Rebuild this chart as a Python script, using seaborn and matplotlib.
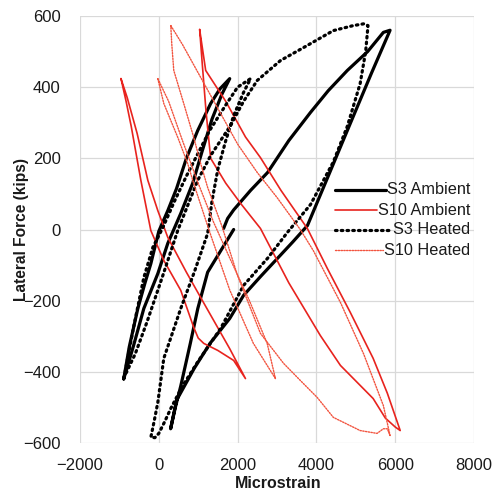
import matplotlib
matplotlib.use("Agg")
import matplotlib.pyplot as plt
import pandas as pd
import seaborn as sns
from matplotlib.lines import Line2D

series_names = ["S3 Ambient", "S10 Ambient", "S3 Heated", "S10 Heated"]

# ---- S3 Ambient (black solid)
s3a_small_x = [-890, -750, -532, -350, -202, 0, 228, 450, 700, 987, 1316, 1550, 1800,
               1600, 1350, 1100, 860, 557, 228, -25, -380, -650, -890]
s3a_small_y = [-420, -330, -222, -150, -96, -5, 53, 115, 200, 278, 354, 395, 424,
               380, 310, 220, 130, 45, -39, -124, -222, -330, -420]
s3a_big_x = [1900, 1570, 1240, 990, 800, 557, 420, 300, 450, 600, 900, 1300, 1800, 2152,
             2600, 3013, 3400, 3772, 4300, 4860, 5400, 5870, 5700, 5300, 4785, 4300, 3850,
             3300, 2760, 2330, 1900, 1747, 1645]
s3a_big_y = [0, -60, -120, -222, -320, -440, -500, -560, -480, -450, -390, -320, -250, -185,
             -130, -81, -35, 11, 150, 298, 440, 560, 554, 500, 447, 390, 329,
             250, 160, 110, 55, 31, 3]

# ---- S3 Heated (black dotted)
s3h_x = [-880, -650, -380, -150, 101, 400, 700, 1000, 1300, 1700, 2000, 2330,
         2150, 1900, 1700, 1500, 1350, 1240, 900, 557, 127, -25, -120, -202,
         -100, 0, 150, 304, 600, 1000, 1570, 2152, 2760, 3265, 3850, 4430, 4785, 5110,
         5250, 5310, 5200, 4935, 4430, 3670, 3090, 2500, 2150, 1820, 1316, 987, 480,
         100, -300, -600, -880]
s3h_y = [-415, -280, -135, -50, 5, 80, 150, 215, 280, 350, 400, 424,
         385, 320, 250, 170, 80, -11, -120, -222, -362, -486, -540, -584,
         -585, -573, -540, -503, -440, -370, -278, -157, -81, -8, 70, 190, 290, 410,
         500, 573, 578, 573, 559, 511, 475, 419, 360, 292, 208, 138, -3,
         -130, -260, -350, -415]

# ---- S10 Ambient (red solid)
s10a_small_x = [-960, -830, -700, -455, -202, 127, 557, 886, 1000, 1140, 1500, 1900, 2200,
                1800, 1200, 700, 228, -25, -278, -550, -800, -960]
s10a_small_y = [424, 360, 290, 138, -3, -87, -171, -275, -305, -320, -340, -368, -419,
                -335, -218, -120, -22, 53, 138, 270, 370, 424]
s10a_big_x = [1037, 1190, 1700, 2200, 2580, 3100, 3770, 4280, 4860, 5440, 5800, 6127,
              6000, 5870, 5750, 5440, 4860, 4610, 4100, 3300, 2580, 2100, 1700, 1316,
              1200, 1100, 1037]
s10a_big_y = [562, 447, 360, 260, 202, 110, 3, -110, -233, -362, -460, -565,
              -555, -542, -530, -475, -410, -382, -298, -150, 3, 70, 130, 200,
              330, 470, 562]

# ---- S10 Heated (red dotted)
s10h_small_x = [-25, 127, 481, 734, 886, 1300, 1800, 2400, 2960,
                2750, 2300, 1800, 1392, 1000, 600, 250, -25]
s10h_small_y = [424, 354, 259, 185, 129, -10, -170, -320, -419,
                -320, -200, -80, 20, 130, 250, 360, 424]
s10h_big_x = [304, 600, 1000, 1500, 2000, 2500, 3000, 3590, 3920, 4610, 5200, 5700, 5870,
              5800, 5700, 5540, 5110, 4430, 4020, 3590, 3165, 2580, 2000, 1600, 1240, 1063,
              886, 633, 380, 330, 304]
s10h_big_y = [573, 520, 440, 340, 240, 160, 90, 0, -59, -205, -350, -495, -579,
              -560, -560, -573, -565, -528, -472, -424, -376, -292, -130, 10, 118, 185,
              259, 354, 447, 520, 573]

x_ticks = [-2000, 0, 2000, 4000, 6000, 8000]
y_ticks = [-600, -400, -200, 0, 200, 400, 600]

segments = [
    ("S3 Ambient", s3a_small_x, s3a_small_y),
    ("S3 Ambient", s3a_big_x, s3a_big_y),
    ("S10 Ambient", s10a_small_x, s10a_small_y),
    ("S10 Ambient", s10a_big_x, s10a_big_y),
    ("S3 Heated", s3h_x, s3h_y),
    ("S10 Heated", s10h_small_x, s10h_small_y),
    ("S10 Heated", s10h_big_x, s10h_big_y),
]
rows = []
for i, (name, xs, ys) in enumerate(segments):
    for x, y in zip(xs, ys):
        rows.append({"series": name, "unit": f"{name}-{i}", "strain": x, "force": y})
df = pd.DataFrame(rows)

sns.set_theme(style="white")
plt.rcParams["font.family"] = ["Liberation Sans", "DejaVu Sans"]

fig = plt.figure(figsize=(4.96, 4.95), dpi=100)
W, H = 496, 495
ax = fig.add_axes([80 / W, 1 - 443 / H, (474 - 80) / W, (443 - 16) / H])

palette = {"S3 Ambient": "black", "S10 Ambient": "#e8231e",
           "S3 Heated": "black", "S10 Heated": "#f2543f"}
sizes = {"S3 Ambient": 2.3, "S10 Ambient": 1.2, "S3 Heated": 2.3, "S10 Heated": 1.0}
dashes = {"S3 Ambient": "", "S10 Ambient": "", "S3 Heated": (0.5, 1.3), "S10 Heated": (1, 1)}

for name in series_names:
    sub = df[df["series"] == name]
    sns.lineplot(data=sub, x="strain", y="force", units="unit", estimator=None, sort=False,
                 color=palette[name], linewidth=sizes[name],
                 dash_capstyle="round", ax=ax, legend=False)
    if dashes[name]:
        for ln in ax.lines[-sub["unit"].nunique():]:
            ln.set_dashes(dashes[name])

ax.set_xlim(-2000, 8000)
ax.set_ylim(-600, 600)
ax.set_xticks(x_ticks)
ax.set_yticks(y_ticks)
ax.grid(True, color="#d9d9d9", linewidth=0.9)
ax.set_axisbelow(True)
for s in ax.spines.values():
    s.set_visible(False)
ax.tick_params(axis="both", length=0, labelsize=12, colors="#1a1a1a")
ax.tick_params(axis="y", pad=14)
ax.tick_params(axis="x", pad=11)

ax.set_xlabel("Microstrain", fontsize=11.5, fontweight="bold", color="#1a1a1a")
ax.set_ylabel("Lateral Force (kips)", fontsize=11.2, fontweight="bold", color="#1a1a1a")
ax.xaxis.label.set_va("center")
ax.yaxis.label.set_va("center")
ax.xaxis.set_label_coords(0.503, -(483 - 443) / 427)
ax.yaxis.set_label_coords((21 - 80) / 394, 0.501)

# Excel-style legend: handles start at same x, text right aligned
renderer = fig.canvas.get_renderer()
leg_rows = [190, 210, 230, 250]
for name, yp in zip(series_names, leg_rows):
    t = fig.text(470 / W, 1 - yp / H, name, ha="right", va="center", fontsize=11.7,
                 color="#1a1a1a")
    bb = t.get_window_extent(renderer)
    ln = Line2D([335 / W, (bb.x0 - 1) / W], [1 - yp / H, 1 - yp / H],
                transform=fig.transFigure, color=palette[name], linewidth=sizes[name],
                dash_capstyle="round")
    if dashes[name]:
        ln.set_dashes(dashes[name])
    fig.add_artist(ln)

fig.savefig("out.png", dpi=100)
